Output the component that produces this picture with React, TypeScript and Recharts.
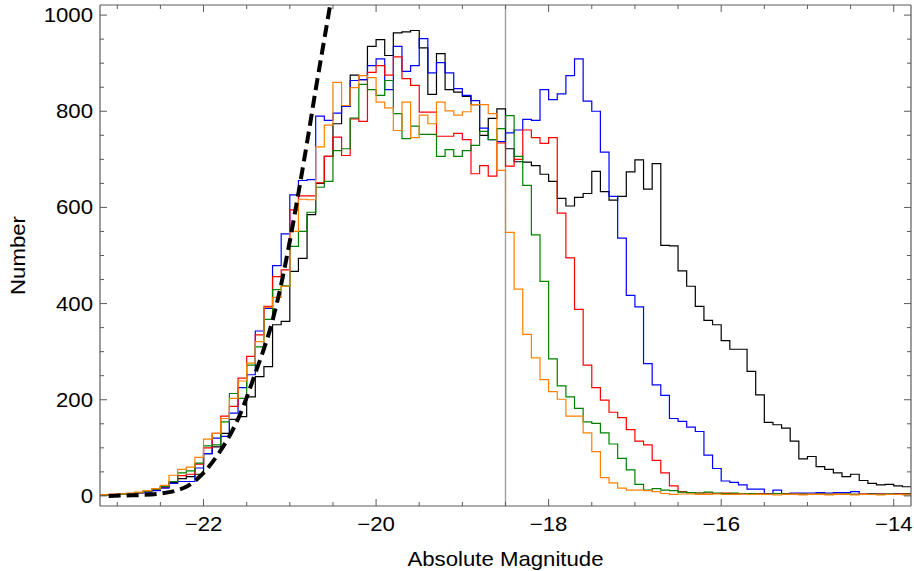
import React from 'react';
import { LineChart, Line, XAxis, YAxis, ReferenceLine, Label } from 'recharts';

// Histogram bins: 0.1 mag wide, left edges from -23.2 to -13.9
const BIN_START = -23.2;
const BIN_WIDTH = 0.1;

const blackCounts = [
  1, 2, 3, 5, 7, 9, 13, 18, 28, 36,
  40, 45, 88, 102, 130, 159, 165, 206, 248, 269,
  356, 363, 467, 494, 585, 650, 706, 774, 810, 875,
  866, 935, 949, 916, 963, 965, 968, 932, 835, 920,
  845, 840, 831, 814, 750, 785, 805, 722, 695, 694,
  687, 669, 654, 619, 603, 621, 629, 675, 633, 615,
  623, 674, 699, 638, 691, 521, 520, 468, 436, 394,
  365, 356, 323, 305, 305, 259, 210, 153, 148, 141,
  114, 77, 82, 61, 55, 48, 40, 45, 32, 26,
  23, 24, 21, 19,
];

const blueCounts = [
  1, 2, 3, 4, 6, 8, 11, 16, 26, 30,
  30, 58, 88, 120, 124, 172, 225, 252, 343, 390,
  479, 545, 626, 656, 658, 790, 781, 796, 810, 864,
  866, 895, 909, 845, 935, 883, 895, 951, 880, 901,
  880, 847, 833, 822, 765, 741, 737, 755, 761, 783,
  781, 845, 824, 836, 874, 909, 821, 800, 715, 623,
  536, 417, 393, 275, 231, 209, 161, 155, 143, 134,
  85, 57, 31, 28, 23, 14, 14, 5, 12, 5,
  6, 6, 6, 7, 6, 7, 7, 9, 3, 5,
  4, 4, 5, 4,
];

const redCounts = [
  2, 3, 4, 5, 7, 10, 14, 19, 30, 42,
  45, 66, 100, 130, 166, 186, 245, 290, 335, 394,
  456, 470, 595, 624, 624, 651, 706, 746, 708, 784,
  779, 881, 895, 875, 913, 868, 854, 798, 798, 748,
  748, 754, 741, 670, 687, 665, 734, 686, 700, 761,
  745, 733, 745, 588, 495, 388, 272, 225, 199, 174,
  163, 138, 114, 106, 74, 48, 21, 9, 7, 6,
  6, 5, 6, 5, 4, 5, 5, 4, 5, 4,
  4, 4, 3, 4, 3, 4, 3, 3, 4, 3,
  4, 3, 4, 5,
];

const greenCounts = [
  1, 2, 3, 5, 7, 10, 14, 20, 30, 48,
  52, 68, 104, 106, 154, 213, 203, 272, 310, 367,
  429, 437, 519, 550, 590, 642, 654, 718, 722, 786,
  856, 845, 833, 864, 795, 743, 769, 752, 752, 706,
  720, 706, 718, 729, 758, 741, 764, 791, 706, 646,
  543, 446, 285, 229, 206, 182, 154, 151, 131, 108,
  78, 54, 24, 12, 15, 12, 11, 8, 7, 6,
  8, 6, 5, 6, 5, 5, 4, 4, 5, 4,
  3, 4, 3, 4, 3, 3, 4, 3, 3, 4,
  3, 4, 3, 4,
];

const orangeCounts = [
  2, 3, 4, 6, 8, 11, 15, 22, 43, 55,
  60, 80, 118, 130, 161, 203, 239, 276, 321, 392,
  413, 436, 550, 617, 616, 726, 771, 860, 812, 849,
  874, 870, 819, 807, 760, 819, 745, 792, 774, 819,
  801, 792, 799, 814, 814, 795, 677, 548, 430, 336,
  287, 242, 217, 201, 166, 166, 131, 92, 38, 27,
  16, 12, 12, 11, 9, 5, 3, 4, 4, 3,
  3, 4, 3, 3, 4, 3, 3, 3, 2, 3,
  3, 2, 3, 3, 2, 3, 3, 2, 3, 3,
  2, 3, 3, 2,
];

// dashed fitted curve
const fitMagnitudes = [-23.1, -22.9, -22.7, -22.5, -22.3, -22.2, -22.0, -21.8, -21.6, -21.4, -21.2, -21.1, -21.0, -20.9, -20.8, -20.7, -20.6, -20.5];
const fitCounts = [0, 1, 2, 5, 12, 19, 48, 95, 160, 255, 365, 440, 530, 630, 735, 845, 950, 1055];

const cutMagnitude = -18.5;

const xTicks = [-23, -22.5, -22, -21.5, -21, -20.5, -20, -19.5, -19, -18.5, -18, -17.5, -17, -16.5, -16, -15.5, -15, -14.5, -14];
const yTicks = [0, 50, 100, 150, 200, 250, 300, 350, 400, 450, 500, 550, 600, 650, 700, 750, 800, 850, 900, 950, 1000];

const X_DOMAIN: [number, number] = [-23.2, -13.8];
const Y_DOMAIN: [number, number] = [-21, 1021];

const FRAME = '#5a5a5a';
const FONT = "'Liberation Sans', Arial, sans-serif";
const SX = 1.11;

const round1 = (v: number) => Math.round(v * 10) / 10;

function toSteps(counts: number[]) {
  const pts = counts.map((c, i) => ({ x: round1(BIN_START + i * BIN_WIDTH), y: c }));
  pts.push({ x: round1(BIN_START + counts.length * BIN_WIDTH), y: counts[counts.length - 1] });
  return pts;
}

const fitData = fitMagnitudes.map((m, i) => ({ x: m, y: fitCounts[i] }));

const isMultiple = (v: number, m: number) => Math.abs(v / m - Math.round(v / m)) < 1e-6;
const fmt = (v: number) => (v < 0 ? '\u2212' + Math.abs(v) : String(v));

const BottomTick = (props: any) => {
  const { x, y, payload } = props;
  const major = isMultiple(payload.value, 2);
  return (
    <g>
      <line x1={x} x2={x} y1={y} y2={y - (major ? 7 : 4)} stroke={FRAME} strokeWidth={1} />
      {major && (
        <text transform={`translate(${x},${y + 25}) scale(${SX},1)`} textAnchor="middle" fontSize={20} fontFamily={FONT} fill="#000">
          {fmt(payload.value)}
        </text>
      )}
    </g>
  );
};

const TopTick = (props: any) => {
  const { x, y, payload } = props;
  const major = isMultiple(payload.value, 2);
  return <line x1={x} x2={x} y1={y} y2={y + (major ? 7 : 4)} stroke={FRAME} strokeWidth={1} />;
};

const LeftTick = (props: any) => {
  const { x, y, payload } = props;
  const major = isMultiple(payload.value, 200);
  return (
    <g>
      <line x1={x} x2={x + (major ? 7 : 4)} y1={y} y2={y} stroke={FRAME} strokeWidth={1} />
      {major && (
        <text transform={`translate(${x - 7},${y + 7}) scale(${SX},1)`} textAnchor="end" fontSize={20} fontFamily={FONT} fill="#000">
          {fmt(payload.value)}
        </text>
      )}
    </g>
  );
};

const RightTick = (props: any) => {
  const { x, y, payload } = props;
  const major = isMultiple(payload.value, 200);
  return <line x1={x} x2={x - (major ? 7 : 4)} y1={y} y2={y} stroke={FRAME} strokeWidth={1} />;
};

const XTitle = (props: any) => {
  const vb = props.viewBox;
  const cx = vb.x + vb.width / 2;
  return (
    <text transform={`translate(${cx},${vb.y + 60}) scale(${SX},1)`} textAnchor="middle" fontSize={20} fontFamily={FONT} fill="#000">
      Absolute Magnitude
    </text>
  );
};

const YTitle = (props: any) => {
  const vb = props.viewBox;
  const cy = vb.y + vb.height / 2;
  return (
    <text transform={`translate(25,${cy}) rotate(-90) scale(${SX},1)`} textAnchor="middle" fontSize={20} fontFamily={FONT} fill="#000">
      Number
    </text>
  );
};

const series = [
  { name: 'black', counts: blackCounts, color: '#000000' },
  { name: 'blue', counts: blueCounts, color: '#0000ff' },
  { name: 'red', counts: redCounts, color: '#ff0000' },
  { name: 'green', counts: greenCounts, color: '#008000' },
  { name: 'orange', counts: orangeCounts, color: '#ff8000' },
];

export default function App() {
  return (
    <div style={{ position: 'absolute', left: 0, top: 0, width: 914, height: 571, background: '#fff' }}>
      <LineChart width={914} height={571} margin={{ top: 4, right: 2, left: 0, bottom: 0 }}>
        <XAxis
          xAxisId="b"
          type="number"
          dataKey="x"
          domain={X_DOMAIN}
          allowDataOverflow
          ticks={xTicks}
          interval={0}
          height={65}
          tickSize={0}
          tickMargin={0}
          tickLine={false}
          axisLine={{ stroke: FRAME, strokeWidth: 1.2 }}
          tick={<BottomTick />}
        >
          <Label content={<XTitle />} />
        </XAxis>
        <XAxis
          xAxisId="t"
          orientation="top"
          type="number"
          dataKey="x"
          domain={X_DOMAIN}
          allowDataOverflow
          ticks={xTicks}
          interval={0}
          height={1}
          tickSize={0}
          tickMargin={0}
          tickLine={false}
          axisLine={{ stroke: FRAME, strokeWidth: 1.2 }}
          tick={<TopTick />}
        />
        <YAxis
          yAxisId="l"
          type="number"
          domain={Y_DOMAIN}
          allowDataOverflow
          ticks={yTicks}
          interval={0}
          width={100}
          tickSize={0}
          tickMargin={0}
          tickLine={false}
          axisLine={{ stroke: FRAME, strokeWidth: 1.2 }}
          tick={<LeftTick />}
        >
          <Label content={<YTitle />} />
        </YAxis>
        <YAxis
          yAxisId="r"
          orientation="right"
          type="number"
          domain={Y_DOMAIN}
          allowDataOverflow
          ticks={yTicks}
          interval={0}
          width={1}
          tickSize={0}
          tickMargin={0}
          tickLine={false}
          axisLine={{ stroke: FRAME, strokeWidth: 1.2 }}
          tick={<RightTick />}
        />
        <ReferenceLine xAxisId="b" yAxisId="l" x={cutMagnitude} stroke="#a0a0a0" strokeWidth={1.4} />
        {series.map((s) => (
          <Line
            key={s.name}
            xAxisId="b"
            yAxisId="l"
            data={toSteps(s.counts)}
            dataKey="y"
            type="stepAfter"
            stroke={s.color}
            strokeWidth={1.2}
            dot={false}
            activeDot={false}
            isAnimationActive={false}
          />
        ))}
        <Line
          xAxisId="t"
          yAxisId="r"
          data={fitData}
          dataKey="y"
          type="monotone"
          stroke="#000"
          strokeWidth={4}
          strokeDasharray="12 6"
          dot={false}
          activeDot={false}
          isAnimationActive={false}
        />
      </LineChart>
    </div>
  );
}
